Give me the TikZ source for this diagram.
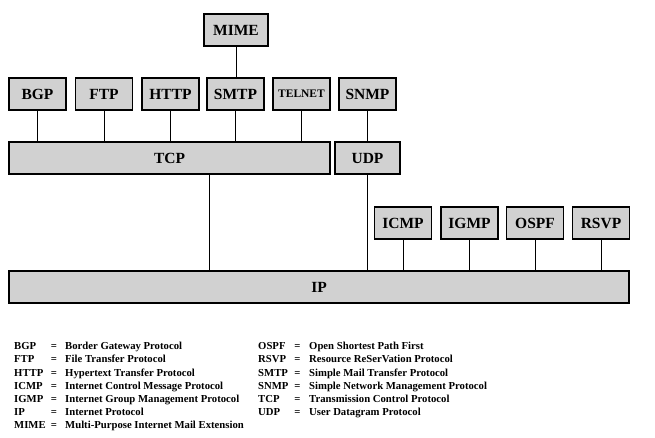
\documentclass[tikz,border=0pt]{standalone}
\usepackage{fontspec}
\setmainfont{Liberation Serif}
\usetikzlibrary{positioning}
\definecolor{boxgray}{gray}{0.82}
\newcommand{\BOXWIDTH}{57}
\newcommand{\BOXHEIGHT}{32}
\newcommand{\APPROWY}{94}
\newcommand{\TRANSROWY}{158}
\newcommand{\NETROWY}{223}
\newcommand{\LEGENDSTEP}{13.1}
\newcommand{\LEGENDTOP}{336.7}
\tikzset{
    protobox/.style={draw, line width=1.3pt, fill=boxgray, inner sep=0pt,
        minimum width=\BOXWIDTH pt, minimum height=\BOXHEIGHT pt,
        font=\fontsize{15.5}{16}\selectfont\bfseries},
    smalllabel/.style={font=\fontsize{11.5}{12}\selectfont\bfseries},
    link/.style={line width=1pt},
    legendtext/.style={inner sep=0pt, font=\fontsize{10.7}{13}\selectfont\bfseries}
}

\begin{document}
\begin{tikzpicture}[x=1pt, y=-1pt]
        \useasboundingbox (0,0) rectangle (655,438);

        % 应用层
        \node[protobox, minimum width=64pt] (MIME) at (236, 30) {MIME};
        \node[protobox] (BGP) at (37.5, \APPROWY) {BGP};
        \node[protobox] (FTP) at (104, \APPROWY) {FTP};
        \node[protobox] (HTTP) at (170.5, \APPROWY) {HTTP};
        \node[protobox] (SMTP) at (235.5, \APPROWY) {SMTP};
        \node[protobox, smalllabel] (TELNET) at (301.5, \APPROWY) {TELNET};
        \node[protobox] (SNMP) at (367.5, \APPROWY) {SNMP};

        % 传输层
        \node[protobox, minimum width=321pt] (TCP) at (169.5, \TRANSROWY) {TCP};
        \node[protobox, minimum width=65pt] (UDP) at (367.5, \TRANSROWY) {UDP};

        % 网络层
        \node[protobox] (ICMP) at (403, \NETROWY) {ICMP};
        \node[protobox] (IGMP) at (469.5, \NETROWY) {IGMP};
        \node[protobox] (OSPF) at (535, \NETROWY) {OSPF};
        \node[protobox] (RSVP) at (601, \NETROWY) {RSVP};
        \node[protobox, minimum width=620pt] (IP) at (319, 287) {IP};

        % 连线
        \draw[link] (MIME.south) -- (MIME.south |- SMTP.north);
        \foreach \proto in {BGP, FTP, HTTP, SMTP, TELNET}
            \draw[link] (\proto.south) -- (\proto.south |- TCP.north);
        \draw[link] (SNMP.south) -- (SNMP.south |- UDP.north);
        \coordinate (tcpdrop) at (209, 0);
        \draw[link] (TCP.south -| tcpdrop) -- (IP.north -| tcpdrop);
        \draw[link] (UDP.south) -- (UDP.south |- IP.north);
        \foreach \proto in {ICMP, IGMP, OSPF, RSVP}
            \draw[link] (\proto.south) -- (\proto.south |- IP.north);

        % 缩写说明
        \foreach \abbr/\full [count=\i] in {BGP/Border Gateway Protocol, FTP/File Transfer Protocol, HTTP/Hypertext Transfer Protocol, ICMP/Internet Control Message Protocol, IGMP/Internet Group Management Protocol, IP/Internet Protocol, MIME/Multi-Purpose Internet Mail Extension} {
            \node[legendtext, anchor=base west] (keyL\i) at (14, {\LEGENDTOP + \LEGENDSTEP * \i}) {\abbr};
            \node[legendtext, anchor=base] (eqL\i) at (54, {\LEGENDTOP + \LEGENDSTEP * \i}) {=};
            \node[legendtext, anchor=base west] (defL\i) at (65, {\LEGENDTOP + \LEGENDSTEP * \i}) {\full};
        }
        \foreach \abbr/\full [count=\i] in {OSPF/Open Shortest Path First, RSVP/Resource ReSerVation Protocol, SMTP/Simple Mail Transfer Protocol, SNMP/Simple Network Management Protocol, TCP/Transmission Control Protocol, UDP/User Datagram Protocol} {
            \node[legendtext, anchor=base west] (keyR\i) at (258, {\LEGENDTOP + \LEGENDSTEP * \i}) {\abbr};
            \node[legendtext, anchor=base] (eqR\i) at (297.5, {\LEGENDTOP + \LEGENDSTEP * \i}) {=};
            \node[legendtext, anchor=base west] (defR\i) at (309, {\LEGENDTOP + \LEGENDSTEP * \i}) {\full};
        }

    \end{tikzpicture}
\end{document}
